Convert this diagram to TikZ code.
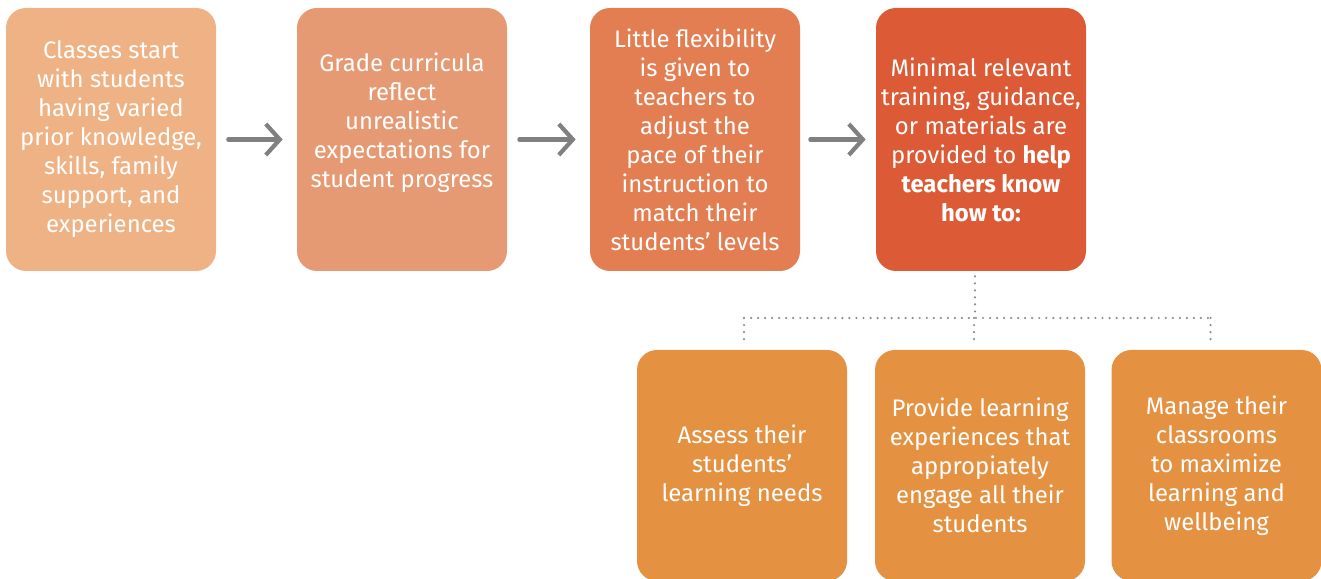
\documentclass[tikz,border=0pt]{standalone}
\usepackage{fontspec}
\setmainfont{Fira Sans}
\usepackage{tikz}
\usetikzlibrary{positioning}
\usetikzlibrary{calc}
\usetikzlibrary{arrows.meta}
\definecolor{peach}{RGB}{239,178,133}
\definecolor{salmon}{RGB}{230,154,116}
\definecolor{coral}{RGB}{226,126,81}
\definecolor{rust}{RGB}{220,91,54}
\definecolor{amber}{RGB}{229,145,66}
\definecolor{arrowgray}{RGB}{128,128,128}
\definecolor{dotgray}{RGB}{140,140,140}

\begin{document}
\begin{tikzpicture}[
    box/.style={rounded corners=0.4cm, minimum width=4.2cm, minimum height=5.26cm,
      text=white, align=center, inner sep=0pt,
      font=\fontsize{13.6}{16.5}\selectfont},
    subbox/.style={box, fill=amber, minimum height=4.62cm},
    flow/.style={arrowgray, line width=2.4pt, line cap=round,
      -{Straight Barb[length=0.28cm, width=0.62cm, line width=2.4pt]}},
    dotline/.style={dotgray, line width=1.4pt, line cap=round, dash pattern=on 0pt off 4pt}]
    \useasboundingbox (0,0) rectangle (26.42,11.58);

    % draw top row
    \node[box, fill=peach] (causes) at (2.22,8.79) {Classes start\\with students\\having varied\\prior knowledge,\\skills, family\\support, and\\experiences};
    \node[box, fill=salmon] (curricula) at (8.04,8.79) {Grade curricula\\reflect\\unrealistic\\expectations for\\student progress\\ \strut};
    \node[box, fill=coral] (flexibility) at (13.90,8.79) {Little flexibility\\is given to\\teachers to\\adjust the\\pace of their\\instruction to\\match their\\students' levels};
    \node[box, fill=rust] (training) at (19.62,8.79) {Minimal relevant\\training, guidance,\\or materials are\\provided to \textbf{help}\\\textbf{teachers know}\\\textbf{how to:}};

    % draw bottom row
    \node[subbox] (assess) at (14.84,2.27) {Assess their\\students'\\learning needs};
    \node[subbox] (provide) at (19.60,2.27) {Provide learning\\experiences that\\appropiately\\engage all their\\students};
    \node[subbox] (manage) at (24.33,2.27) {Manage their\\classrooms\\to maximize\\learning and\\wellbeing};

    % draw arrows
    \draw[flow, shorten <=0.24cm, shorten >=0.28cm] (causes) -- (curricula);
    \draw[flow, shorten <=0.24cm, shorten >=0.28cm] (curricula) -- (flexibility);
    \draw[flow, shorten <=0.2cm, shorten >=0.2cm] (flexibility) -- (training);

    % draw dotted branches
    \coordinate (bus) at (0,5.22);
    \draw[dotline] ([xshift=-0.12cm,yshift=-0.1cm]training.south) -- ([xshift=-0.12cm]training.south |- bus);
    \draw[dotline] ([xshift=0.04cm]assess.north |- bus) -- ([xshift=-0.12cm]manage.north |- bus);
    \draw[dotline] ([xshift=0.04cm]assess.north |- bus) -- ([xshift=0.04cm,yshift=0.1cm]assess.north);
    \draw[dotline] ([xshift=-0.12cm]provide.north |- bus) -- ([xshift=-0.12cm,yshift=0.1cm]provide.north);
    \draw[dotline] ([xshift=-0.12cm]manage.north |- bus) -- ([xshift=-0.12cm,yshift=0.1cm]manage.north);
\end{tikzpicture}
\end{document}
